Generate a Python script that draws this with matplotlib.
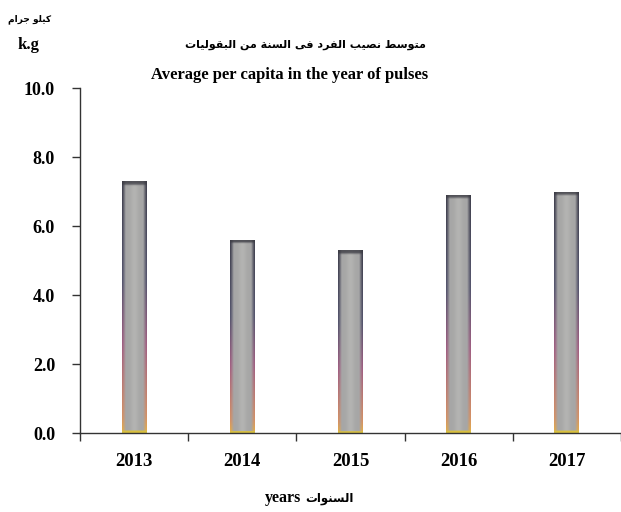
import numpy as np
import matplotlib
matplotlib.use('Agg')
import matplotlib.pyplot as plt
from matplotlib.colors import to_rgb

# data
years = ['2013', '2014', '2015', '2016', '2017']
per_capita = [7.3, 5.6, 5.3, 6.9, 7.0]
y_ticks = [0.0, 2.0, 4.0, 6.0, 8.0, 10.0]

title_ar = 'متوسط نصيب الفرد فى السنة من البقوليات'
title_en = 'Average per capita in the year of pulses'
unit_ar = 'كيلو جرام'
unit_en = 'k.g'
xlabel_ar = 'السنوات'
xlabel_en = 'years'

plt.rcParams['font.family'] = ['Liberation Serif', 'DejaVu Sans']

###### tiny arabic shaper (matplotlib has no bidi / shaping) ######
# letter: (isolated, final, initial, medial) ; None -> joins only to the right
forms = {
    'ا': (0xFE8D, 0xFE8E, None, None),
    'ب': (0xFE8F, 0xFE90, 0xFE91, 0xFE92),
    'ة': (0xFE93, 0xFE94, None, None),
    'ت': (0xFE95, 0xFE96, 0xFE97, 0xFE98),
    'ج': (0xFE9D, 0xFE9E, 0xFE9F, 0xFEA0),
    'د': (0xFEA9, 0xFEAA, None, None),
    'ر': (0xFEAD, 0xFEAE, None, None),
    'س': (0xFEB1, 0xFEB2, 0xFEB3, 0xFEB4),
    'ص': (0xFEB9, 0xFEBA, 0xFEBB, 0xFEBC),
    'ط': (0xFEC1, 0xFEC2, 0xFEC3, 0xFEC4),
    'ف': (0xFED1, 0xFED2, 0xFED3, 0xFED4),
    'ق': (0xFED5, 0xFED6, 0xFED7, 0xFED8),
    'ك': (0xFED9, 0xFEDA, 0xFEDB, 0xFEDC),
    'ل': (0xFEDD, 0xFEDE, 0xFEDF, 0xFEE0),
    'م': (0xFEE1, 0xFEE2, 0xFEE3, 0xFEE4),
    'ن': (0xFEE5, 0xFEE6, 0xFEE7, 0xFEE8),
    'و': (0xFEED, 0xFEEE, None, None),
    'ى': (0xFEEF, 0xFEF0, None, None),
    'ي': (0xFEF1, 0xFEF2, 0xFEF3, 0xFEF4),
}


def shape_word(w):
    out = []
    for i, ch in enumerate(w):
        f = forms.get(ch)
        if f is None:
            out.append(ch)
            continue
        prev = forms.get(w[i - 1]) if i > 0 else None
        nxt = forms.get(w[i + 1]) if i + 1 < len(w) else None
        join_prev = prev is not None and prev[2] is not None
        join_next = nxt is not None and f[2] is not None
        if join_prev and join_next:
            code = f[3]
        elif join_prev:
            code = f[1]
        elif join_next:
            code = f[2]
        else:
            code = f[0]
        out.append(chr(code))
    return ''.join(out)


def ar(text):
    # shape each word, then reverse for left-to-right drawing
    words = [shape_word(w) for w in text.split(' ')]
    return ' '.join(w[::-1] for w in words[::-1])


###### figure ######
fig = plt.figure(figsize=(6.21, 5.12), dpi=100)
ax = fig.add_axes([0.129, 0.154, 0.871, 0.674])

x = np.arange(len(years))
bar_w = 0.23
bars = ax.bar(x, per_capita, width=bar_w, color='#a8a8a8', edgecolor='none',
              zorder=2)

# shading like the original office chart: thin tinted edges, dark top cap
nx, ny = 50, 200
xs = np.linspace(-1, 1, nx)
prof = np.clip((np.abs(xs) - 0.72) / 0.28, 0, 1) ** 0.8
v = np.linspace(0, 1, ny)
stops = [0.0, 0.06, 0.35, 0.6, 1.0]
stop_cols = [to_rgb(c) for c in ['#e8b040', '#d89060', '#a05a80', '#50506a', '#3a3a48']]
edge = np.stack([np.interp(v, stops, [c[i] for c in stop_cols]) for i in range(3)], axis=-1)
base = np.array(to_rgb('#a6a6a6'))
center = np.array(to_rgb('#b4b4b2'))
glow = np.exp(-(xs / 0.3) ** 2)
for b in bars:
    h = b.get_height()
    img = base[None, None, :] + (center - base)[None, None, :] * glow[None, :, None]
    img = np.repeat(img, ny, axis=0)
    img = img * (1 - prof[None, :, None]) + edge[:, None, :] * prof[None, :, None]
    # dark cap at the top, about 3 px
    cap = np.clip((v * h - (h - 0.12)) / 0.06, 0, 1)[:, None, None]
    img = img * (1 - 0.8 * cap) + np.array(to_rgb('#3c3c44')) * 0.8 * cap
    # yellow foot
    foot = (v * h < 0.05)[:, None, None]
    img = np.where(foot, np.array(to_rgb('#d8c040')), img)
    img = np.clip(img, 0, 1)
    x0 = b.get_x()
    im = ax.imshow(img, extent=[x0, x0 + bar_w, 0, h], origin='lower',
                   aspect='auto', zorder=2.5, interpolation='bilinear')
    im.set_clip_path(b)

ax.set_xlim(-0.5, len(years) - 0.5)
ax.set_ylim(0, 10)

ax.set_yticks(y_ticks)
ax.set_yticklabels(['%.1f' % t for t in y_ticks], fontsize=13, fontweight='bold')
ax.set_xticks(np.arange(len(years) + 1) - 0.5)
ax.set_xticklabels([])
ax.set_xticks(x, minor=True)
ax.set_xticklabels(years, minor=True, fontsize=13.5, fontweight='bold')
ax.tick_params(axis='x', which='minor', length=0, pad=14)
ax.tick_params(axis='both', which='major', direction='out', length=6, width=1,
               color='#333333')
ax.tick_params(axis='y', pad=12)

ax.spines['top'].set_visible(False)
ax.spines['right'].set_visible(False)
for s in ['left', 'bottom']:
    ax.spines[s].set_color('#333333')
    ax.spines[s].set_linewidth(1)

# titles and labels
fig.text(0.047, 0.962, ar(unit_ar), ha='center', va='center', fontsize=6.5,
         fontweight='bold', family=['DejaVu Sans'])
fig.text(0.046, 0.912, unit_en, ha='center', va='center', fontsize=12,
         fontweight='bold')
fig.text(0.492, 0.912, ar(title_ar), ha='center', va='center', fontsize=8,
         fontweight='bold', family=['DejaVu Sans'])
fig.text(0.466, 0.853, title_en, ha='center', va='center', fontsize=12,
         fontweight='bold')
fig.text(0.485, 0.028, xlabel_en, ha='right', va='center', fontsize=11.5,
         fontweight='bold')
fig.text(0.492, 0.026, ar(xlabel_ar), ha='left', va='center', fontsize=8.5,
         fontweight='bold', family=['DejaVu Sans'])

fig.savefig('out.png', dpi=100)
print('done')
